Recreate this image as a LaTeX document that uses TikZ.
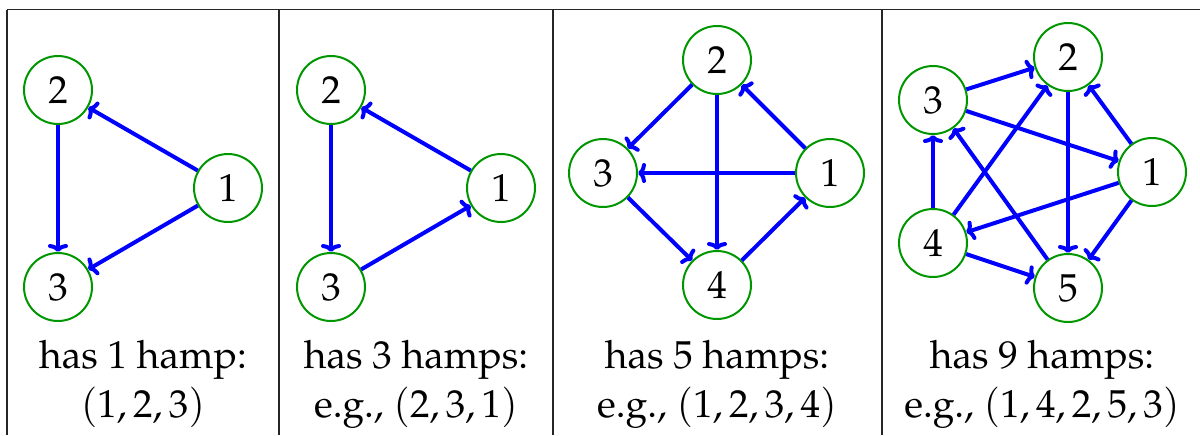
\documentclass[tikz,border=0pt]{standalone}
\usepackage[T1]{fontenc}
\usepackage{mathpazo}
\usetikzlibrary{arrows.meta}
\definecolor{ngreen}{RGB}{0,150,0}
\tikzset{
  vtx/.style={circle, draw=ngreen, line width=1pt, minimum size=34pt, inner sep=0pt, font=\fontsize{19.5}{23}\selectfont},
  arc/.style={draw=blue, line width=2pt, -{To[length=4pt,width=10pt]}},
  rule/.style={draw=black!85, line width=0.8pt},
  captxt/.style={align=center, font=\fontsize{19.5}{24.5}\selectfont, anchor=base}
}
\begin{document}
\begin{tikzpicture}[x=0.5pt,y=-0.5pt]
\useasboundingbox (0,0) rectangle (1200,435);
% table rules
\coordinate (tl) at (7,9.5);
\coordinate (tr) at (1200,9.5);
\draw[rule] (tl) -- (tr);
\foreach \xx in {7,279,553,882} {\draw[rule] (\xx,9.5) -- (\xx,435);}
% column 1
\node[vtx] (a2) at (58,90) {2};
\node[vtx] (a3) at (58,287) {3};
\node[vtx] (a1) at (228,188) {1};
\draw[arc] (a1) -- (a2);
\draw[arc] (a1) -- (a3);
\draw[arc] (a2) -- (a3);
\node[captxt] (ta) at (143,368) {has 1 hamp:};
\node[captxt] (ta2) at (143,417) {$(1,2,3)$};
% column 2
\node[vtx] (b2) at (331,90) {2};
\node[vtx] (b3) at (331,287) {3};
\node[vtx] (b1) at (501,188) {1};
\draw[arc] (b1) -- (b2);
\draw[arc] (b2) -- (b3);
\draw[arc] (b3) -- (b1);
\node[captxt] (tb) at (416,368) {has 3 hamps:};
\node[captxt] (tb2) at (416,417) {e.g., $(2,3,1)$};
% column 3
\node[vtx] (c2) at (717,60) {2};
\node[vtx] (c3) at (603,173) {3};
\node[vtx] (c1) at (830,173) {1};
\node[vtx] (c4) at (717,285) {4};
\draw[arc] (c1) -- (c2);
\draw[arc] (c2) -- (c3);
\draw[arc] (c2) -- (c4);
\draw[arc] (c1) -- (c3);
\draw[arc] (c3) -- (c4);
\draw[arc] (c4) -- (c1);
\node[captxt] (tc) at (717,368) {has 5 hamps:};
\node[captxt] (tc2) at (717,417) {e.g., $(1,2,3,4)$};
% column 4
\node[vtx] (d2) at (1068,57) {2};
\node[vtx] (d3) at (933,100) {3};
\node[vtx] (d1) at (1152,172) {1};
\node[vtx] (d4) at (933,243) {4};
\node[vtx] (d5) at (1068,288) {5};
\draw[arc] (d3) -- (d2);
\draw[arc] (d3) -- (d1);
\draw[arc] (d1) -- (d2);
\draw[arc] (d2) -- (d5);
\draw[arc] (d1) -- (d5);
\draw[arc] (d1) -- (d4);
\draw[arc] (d4) -- (d3);
\draw[arc] (d4) -- (d2);
\draw[arc] (d4) -- (d5);
\draw[arc] (d5) -- (d3);
\node[captxt] (td) at (1042,368) {has 9 hamps:};
\node[captxt] (td2) at (1042,417) {e.g., $(1,4,2,5,3)$};
\end{tikzpicture}
\end{document}
